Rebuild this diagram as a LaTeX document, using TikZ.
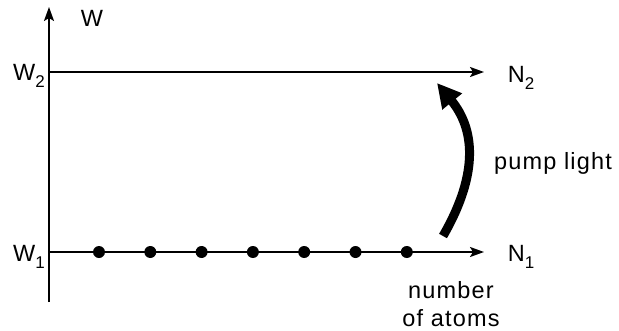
\documentclass[tikz,border=0pt]{standalone}
\usepackage{fontspec}
\setmainfont{Liberation Sans}[LetterSpace=5]
\usetikzlibrary{arrows.meta}
\tikzset{
  axisline/.style={line width=2pt,-{Stealth[length=14pt,width=10pt,inset=3pt]}},
  atom/.style={circle,fill=black,inner sep=0pt,minimum size=12pt},
  lbl/.style={inner sep=0pt,font=\fontsize{23.5}{27}\selectfont},
  pumparrow/.style={line width=9pt,-{Triangle[length=24pt,width=24pt]}}
}
\newcommand{\subsc}[1]{\raisebox{-0.6ex}{\fontsize{17}{19}\selectfont #1}}
\begin{document}
\begin{tikzpicture}[x=1pt,y=-1pt]
\useasboundingbox (0,0) rectangle (619,330);
\coordinate (o) at (49,302);
\coordinate (top) at (49,7);
\coordinate (l2) at (49,72);
\coordinate (l2e) at (484,72);
\coordinate (l1) at (49,252);
\coordinate (l1e) at (484,252);
\draw[axisline] (o) -- (top);
\draw[axisline] (l2) -- (l2e);
\draw[axisline] (l1) -- (l1e);
\foreach \i [count=\k] in {0,...,6}{
  \node[atom] (a\k) at (99+51.3*\i,252) {};
}
\node[lbl] (W) at (92,18) {W};
\node[lbl] (W2) at (29,76) {W\subsc{2}};
\node[lbl] (W1) at (29,257) {W\subsc{1}};
\node[lbl] (N2) at (521,78) {N\subsc{2}};
\node[lbl] (N1) at (521,257) {N\subsc{1}};
\node[lbl] (pump) at (553,163) {pump light};
\node[lbl] (num) at (451,290) {number};
\node[lbl] (atoms) at (451,318) {of atoms};
\coordinate (ps) at (443,236);
\coordinate (pe) at (437,83);
\draw[pumparrow] (ps) .. controls (480,172) and (474,128) .. (pe);
\end{tikzpicture}
\end{document}
